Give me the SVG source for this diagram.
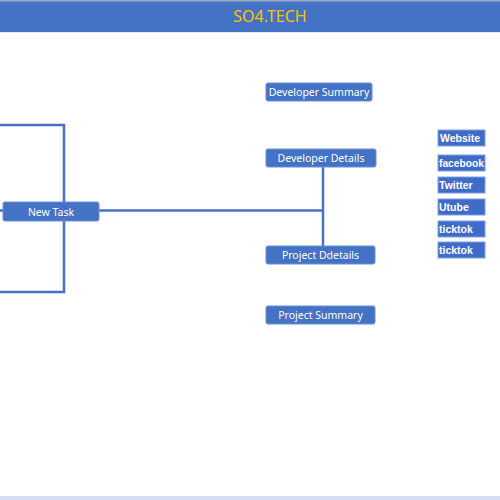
<svg xmlns="http://www.w3.org/2000/svg" width="500" height="500" viewBox="0 0 500 500">
<style>
.node rect{fill:#4472C4;stroke:#6A8FD6;stroke-width:1}
.node text{fill:#fff;font-family:"Noto Sans","Open Sans",sans-serif;font-size:10.5px;text-anchor:middle;dominant-baseline:central}
.soc rect{fill:#3F6CC8;stroke:#7E9FE0;stroke-width:1}
.soc text{fill:#fff;font-family:"Liberation Sans",Arial,sans-serif;font-weight:bold;font-size:10.5px;dominant-baseline:central}
.conn{fill:none;stroke:#4472C4;stroke-width:2.5}
</style>
<rect x="0" y="0" width="500" height="500" fill="#fff"/>
<g id="header">
<rect x="0" y="0" width="500" height="32" fill="#4472C4"/>
<rect x="0" y="0" width="500" height="1.5" fill="#9DA9C0"/>
<line x1="0" y1="32.5" x2="500" y2="32.5" stroke="#E3E8F3" stroke-width="1"/>
<text x="270" y="16" fill="#FFC000" font-family="Noto Sans,Open Sans,sans-serif" font-size="16" text-anchor="middle" dominant-baseline="central">SO4.TECH</text>
</g>
<rect x="0" y="496" width="500" height="4" fill="#D6DEF5"/>
<g id="connectors">
<polyline class="conn" points="0,125 64,125 64,202"/>
<polyline class="conn" points="64,221 64,292 0,292"/>
<line class="conn" x1="0" y1="210.5" x2="3" y2="210.5"/>
<line class="conn" x1="99" y1="210.5" x2="323" y2="210.5"/>
<line class="conn" x1="323" y1="167" x2="323" y2="246"/>
</g>
<g id="new-task" class="node"><rect x="3" y="202" width="96" height="19" rx="2"/><text x="51" y="211.5">New Task</text></g>
<g id="developer-summary" class="node"><rect x="266" y="83" width="106" height="18" rx="2"/><text x="319" y="92">Developer Summary</text></g>
<g id="developer-details" class="node"><rect x="266" y="149" width="110" height="18" rx="2"/><text x="321" y="158">Developer Details</text></g>
<g id="project-ddetails" class="node"><rect x="266" y="246" width="109" height="18" rx="2"/><text x="320.5" y="255">Project Ddetails</text></g>
<g id="project-summary" class="node"><rect x="266" y="306" width="109" height="18" rx="2"/><text x="320.5" y="315">Project Summary</text></g>
<g id="website" class="soc"><rect x="438" y="130" width="47" height="16"/><text x="440" y="138">Website</text></g>
<g id="facebook" class="soc"><rect x="438" y="155" width="47" height="16"/><text x="439" y="163" textLength="45" lengthAdjust="spacingAndGlyphs">facebook</text></g>
<g id="twitter" class="soc"><rect x="438" y="177" width="47" height="16"/><text x="439" y="185">Twitter</text></g>
<g id="utube" class="soc"><rect x="438" y="199" width="47" height="16"/><text x="439" y="207">Utube</text></g>
<g id="ticktok1" class="soc"><rect x="438" y="221" width="47" height="16"/><text x="439" y="229">ticktok</text></g>
<g id="ticktok2" class="soc"><rect x="438" y="242" width="47" height="16"/><text x="439" y="250">ticktok</text></g>
</svg>
